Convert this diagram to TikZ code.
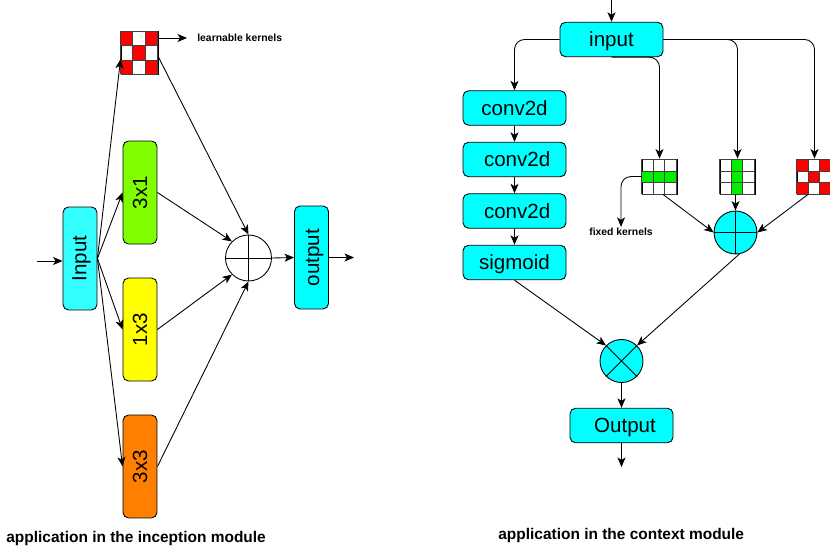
\documentclass[tikz,border=0pt]{standalone}
\usepackage{fontspec}
\setmainfont{Liberation Sans}
\usetikzlibrary{arrows.meta}

\definecolor{boxcyan}{RGB}{0,255,255}
\definecolor{inputcyan}{RGB}{51,255,255}
\definecolor{boxlime}{RGB}{128,255,0}
\definecolor{boxorange}{RGB}{255,128,0}
\definecolor{boxyellow}{RGB}{255,255,0}
\definecolor{cellred}{RGB}{255,0,0}
\definecolor{cellgreen}{RGB}{0,240,0}

\tikzset{
	conn/.style={draw=black, line width=0.5pt, -{Stealth[length=1.9mm, width=1.6mm, inset=0.5mm]}},
	blockh/.style={draw=black, fill=boxcyan, line width=0.5pt, rounded corners=1.1mm, minimum width=2.06cm, minimum height=0.69cm, inner sep=0pt, text height=9pt, text depth=1pt, font=\fontsize{11.7}{13}\selectfont},
	blockv/.style={draw=black, line width=0.5pt, rounded corners=1.1mm, minimum width=0.68cm, minimum height=2.06cm, inner sep=0pt, font=\fontsize{11.7}{13}\selectfont},
	kernelbox/.style={draw=black, line width=0.5pt, inner sep=0pt},
	mergeop/.style={circle, draw=black, line width=0.5pt, inner sep=0pt},
	smalltext/.style={font=\fontsize{5.9}{7}\selectfont\bfseries},
	captiontext/.style={font=\fontsize{8.8}{10}\selectfont\bfseries, anchor=west, inner sep=0pt},
}

% name, cell width, cell height, colour, filled cells
\newcommand{\kernelcells}[5]{
	\begin{scope}[shift={(#1.south west)}, x=#2cm, y=#3cm]
		\foreach \c/\r in {#5}
			\fill[#4] (\c, \r) rectangle ++(1, 1) ;
		\draw[step=1, line width=0.5pt, black!75] (0, 0) grid (3, 3) ;
	\end{scope}
}

\begin{document}
\begin{tikzpicture}[x=0.02cm, y=-0.02cm]
	\useasboundingbox (0, 0) rectangle (830, 550) ;

	% inception module
	\node[blockv, fill=inputcyan] (input) at (80, 258.5) {\hspace*{1.7pt}\rotatebox{90}{Input}} ;
	\node[blockv, fill=boxlime] (convA) at (140, 192.5) {\rotatebox{90}{3x1}} ;
	\node[blockv, fill=boxyellow] (convB) at (140, 329.5) {\rotatebox{90}{1x3}} ;
	\node[blockv, fill=boxorange] (convC) at (140, 466.5) {\rotatebox{90}{3x3}} ;
	\node[blockv, fill=boxcyan] (outv) at (311.5, 257.5) {\hspace*{3.4pt}\rotatebox{90}{output}} ;
	\node[mergeop, minimum size=0.92cm] (plusA) at (248.5, 258) {} ;
	\draw[line width=0.5pt] (plusA.north) -- (plusA.south) (plusA.west) -- (plusA.east) ;

	\node[kernelbox, minimum width=0.74cm, minimum height=0.86cm] (learn) at (139.5, 52.5) {} ;
	\kernelcells{learn}{0.2467}{0.2867}{cellred}{0/0, 2/0, 1/1, 0/2, 2/2}
	\node[smalltext, anchor=west, inner sep=0.2cm] (learntxt) at (187, 38) {learnable kernels} ;

	\coordinate (inA) at (37, 261) ;
	\coordinate (outA) at (354, 257.5) ;
	\draw[conn] (inA) -- (inA -| input.west) ;
	\draw[conn] (input.east) -- ([yshift=-0.13cm]learn.west) ;
	\draw[conn] (input.east) -- (convA.west) ;
	\draw[conn] (input.east) -- (convB.west) ;
	\draw[conn] (input.east) -- (convC.west) ;
	\draw[conn] (learn.east |- learntxt.west) -- (learntxt.west) ;
	\draw[conn] ([yshift=-0.09cm]learn.east) -- (plusA.north) ;
	\draw[conn] (convA.east) -- (plusA.135) ;
	\draw[conn] (convB.east) -- (plusA.225) ;
	\draw[conn] (convC.east) -- (plusA.south) ;
	\draw[conn] (plusA.east) -- (outv.west) ;
	\draw[conn] (outv.east) -- (outA) ;

	\node[captiontext] (capA) at (6, 538) {application in the inception module} ;

	% context module
	\node[blockh] (ctxin) at (611.5, 39.5) {input} ;
	\node[blockh] (convD) at (514.5, 108) {conv2d} ;
	\node[blockh] (convE) at (514.5, 159.5) {\hspace*{3pt}conv2d} ;
	\node[blockh] (convF) at (514.5, 211) {\hspace*{3pt}conv2d} ;
	\node[blockh] (sigm) at (514.5, 262.5) {sigmoid} ;
	\node[blockh] (ctxout) at (621.5, 425.5) {\hspace*{4pt}Output} ;

	\node[kernelbox, minimum size=0.7cm] (kernH) at (659.5, 176.5) {} ;
	\node[kernelbox, minimum size=0.7cm] (kernV) at (737.5, 176.5) {} ;
	\node[kernelbox, minimum size=0.7cm] (kernR) at (814.5, 176.5) {} ;
	\kernelcells{kernH}{0.2333}{0.2333}{cellgreen}{0/1, 1/1, 2/1}
	\kernelcells{kernV}{0.2333}{0.2333}{cellgreen}{1/0, 1/1, 1/2}
	\kernelcells{kernR}{0.2333}{0.2333}{cellred}{0/0, 2/0, 1/1, 0/2, 2/2}

	\node[mergeop, fill=boxcyan, minimum size=0.86cm] (plusB) at (735.5, 232.5) {} ;
	\draw[line width=0.5pt] (plusB.north) -- (plusB.south) (plusB.west) -- (plusB.east) ;
	\node[mergeop, fill=boxcyan, minimum size=0.86cm] (times) at (621.5, 361) {} ;
	\draw[line width=0.5pt] (times.45) -- (times.225) (times.135) -- (times.315) ;
	\node[smalltext, inner sep=0.02cm] (fixedtxt) at (621, 232) {fixed kernels} ;

	\coordinate (inB) at (611.5, 0) ;
	\coordinate (outB) at (621.5, 467) ;
	\draw[conn] (inB) -- (ctxin.north) ;
	\draw[conn, rounded corners=2mm] (ctxin.west) -| (convD.north) ;
	\draw[conn] (convD) -- (convE) ;
	\draw[conn] (convE) -- (convF) ;
	\draw[conn] (convF) -- (sigm) ;
	\draw[conn, rounded corners=2mm] (ctxin.south) -| (kernH.north) ;
	\draw[conn, rounded corners=2mm] (ctxin.east) -| (kernV.north) ;
	\draw[conn, rounded corners=2mm] (ctxin.east) -| (kernR.north) ;
	\draw[conn, rounded corners=2mm] (kernH.west) -| (fixedtxt.north) ;
	\draw[conn] ([xshift=0.07cm]kernH.south) -- (plusB.west) ;
	\draw[conn] (kernV.south -| plusB.north) -- (plusB.north) ;
	\draw[conn] ([xshift=-0.13cm]kernR.south) -- (plusB.east) ;
	\draw[conn] (sigm.south) -- (times.135) ;
	\draw[conn] (plusB.-80) -- (times.45) ;
	\draw[conn] (times) -- (ctxout) ;
	\draw[conn] (ctxout.south) -- (outB) ;

	\node[captiontext] (capB) at (498, 535) {application in the context module} ;
\end{tikzpicture}
\end{document}
